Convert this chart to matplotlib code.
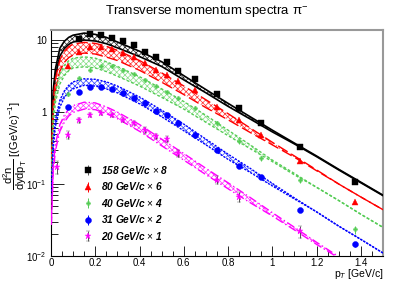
import numpy as np
import matplotlib
matplotlib.use("Agg")
import matplotlib.pyplot as plt

plt.rcParams['font.family'] = ['Liberation Sans', 'DejaVu Sans']
plt.rcParams['mathtext.fontset'] = 'custom'
plt.rcParams['mathtext.rm'] = 'Liberation Sans'
plt.rcParams['mathtext.it'] = 'Liberation Sans:italic'
plt.rcParams['mathtext.bf'] = 'Liberation Sans:bold'
plt.rcParams['hatch.linewidth'] = 0.5

# ---------------- data points ----------------
labels = ["158 GeV/c $\\times$ 8", "80 GeV/c $\\times$ 6", "40 GeV/c $\\times$ 4",
          "31 GeV/c $\\times$ 2", "20 GeV/c $\\times$ 1"]

x_158 = [0.125, 0.175, 0.225, 0.275, 0.325, 0.375, 0.425, 0.475, 0.525, 0.575, 0.65, 0.75, 0.85, 0.95, 1.125, 1.375]
y_158 = [10.2, 12.1, 11.7, 10.8, 9.8, 8.5, 6.9, 5.9, 4.95, 3.75, 2.87, 1.78, 1.14, 0.70, 0.33, 0.108]
e_158 = [0.2, 0.2, 0.2, 0.2, 0.2, 0.15, 0.12, 0.1, 0.08, 0.06, 0.05, 0.03, 0.02, 0.015, 0.008, 0.006]

x_80 = [0.075, 0.125, 0.175, 0.225, 0.275, 0.325, 0.375, 0.425, 0.475, 0.525, 0.575, 0.65, 0.75, 0.85, 0.95, 1.125, 1.375]
y_80 = [4.3, 6.8, 8.0, 7.9, 7.4, 6.7, 5.8, 4.8, 3.9, 3.3, 2.67, 2.0, 1.19, 0.77, 0.48, 0.207, 0.057]
e_80 = [0.15, 0.15, 0.15, 0.15, 0.15, 0.12, 0.1, 0.1, 0.08, 0.06, 0.05, 0.04, 0.03, 0.02, 0.012, 0.006, 0.003]

x_40 = [0.075, 0.125, 0.175, 0.225, 0.275, 0.325, 0.375, 0.425, 0.475, 0.525, 0.575, 0.65, 0.75, 0.85, 0.95, 1.125, 1.375]
y_40 = [1.8, 2.94, 3.9, 4.4, 4.3, 3.9, 3.4, 2.8, 2.3, 1.9, 1.55, 1.15, 0.70, 0.39, 0.227, 0.114, 0.0235]
e_40 = [0.12, 0.15, 0.15, 0.15, 0.15, 0.15, 0.12, 0.1, 0.08, 0.07, 0.06, 0.05, 0.04, 0.025, 0.015, 0.01, 0.003]

x_31 = [0.075, 0.125, 0.175, 0.225, 0.275, 0.325, 0.375, 0.425, 0.475, 0.525, 0.575, 0.65, 0.75, 0.85, 0.95, 1.125, 1.375]
y_31 = [1.16, 1.9, 2.2, 2.2, 2.09, 1.82, 1.56, 1.33, 1.04, 0.90, 0.70, 0.48, 0.30, 0.178, 0.126, 0.0435, 0.0145]
e_31 = [0.04, 0.05, 0.05, 0.05, 0.05, 0.04, 0.04, 0.03, 0.02, 0.02, 0.015, 0.01, 0.008, 0.005, 0.004, 0.002, 0.001]

x_20 = [0.025, 0.075, 0.125, 0.175, 0.225, 0.275, 0.325, 0.375, 0.425, 0.475, 0.525, 0.575, 0.75, 0.85, 1.125]
y_20 = [0.174, 0.48, 0.77, 0.91, 0.96, 0.91, 0.77, 0.71, 0.56, 0.46, 0.42, 0.27, 0.114, 0.067, 0.022]
e_20 = [0.035, 0.06, 0.06, 0.06, 0.06, 0.06, 0.05, 0.05, 0.05, 0.04, 0.04, 0.03, 0.015, 0.01, 0.004]

# ---------------- model curves ----------------
xc = [0.002, 0.01, 0.02, 0.04, 0.06, 0.08, 0.1, 0.15, 0.2, 0.25, 0.3, 0.4, 0.5, 0.6, 0.7, 0.8, 0.9, 1.0, 1.1, 1.2, 1.3, 1.4, 1.5]

hi_158 = [0.35, 2.0, 4.0, 7.7, 9.6, 10.9, 11.7, 12.5, 12.0, 10.9, 9.4, 7.0, 5.0, 3.2, 2.05, 1.32, 0.86, 0.56, 0.37, 0.245, 0.16, 0.106, 0.070]
lo_158 = [0.28, 1.6, 3.2, 6.0, 7.6, 8.7, 9.4, 10.0, 9.7, 8.9, 7.8, 5.9, 4.3, 2.8, 1.85, 1.2, 0.8, 0.53, 0.36, 0.24, 0.157, 0.104, 0.069]

hi_80 = [0.24, 1.45, 2.9, 5.3, 7.0, 8.1, 8.8, 9.3, 9.0, 8.2, 7.2, 5.2, 3.5, 2.3, 1.48, 0.95, 0.6, 0.38, 0.245, 0.157, 0.1, 0.066, 0.044]
lo_80 = [0.17, 1.0, 2.0, 3.7, 4.9, 5.7, 6.2, 6.6, 6.4, 5.8, 5.2, 3.8, 2.6, 1.75, 1.15, 0.78, 0.52, 0.35, 0.235, 0.153, 0.1, 0.066, 0.044]

hi_40 = [0.15, 0.94, 1.87, 3.4, 4.45, 5.15, 5.6, 5.85, 5.6, 5.0, 4.3, 3.1, 2.1, 1.4, 0.9, 0.56, 0.35, 0.215, 0.14, 0.09, 0.059, 0.038, 0.025]
lo_40 = [0.11, 0.68, 1.36, 2.45, 3.2, 3.75, 4.1, 4.25, 4.1, 3.65, 3.15, 2.3, 1.6, 1.1, 0.72, 0.47, 0.31, 0.205, 0.134, 0.09, 0.059, 0.038, 0.025]

hi_31 = [0.08, 0.39, 0.78, 1.46, 1.96, 2.35, 2.63, 2.9, 2.85, 2.63, 2.3, 1.62, 1.06, 0.68, 0.42, 0.26, 0.165, 0.102, 0.064, 0.041, 0.026, 0.017, 0.011]
lo_31 = [0.063, 0.315, 0.63, 1.17, 1.58, 1.9, 2.1, 2.35, 2.3, 2.1, 1.85, 1.3, 0.86, 0.55, 0.35, 0.22, 0.145, 0.094, 0.062, 0.041, 0.026, 0.017, 0.011]

hi_20 = [0.034, 0.18, 0.36, 0.67, 0.9, 1.1, 1.23, 1.37, 1.34, 1.18, 1.0, 0.67, 0.42, 0.265, 0.165, 0.104, 0.065, 0.04, 0.025, 0.0155, 0.0098, 0.006, 0.004]
lo_20 = [0.027, 0.145, 0.29, 0.54, 0.72, 0.88, 0.99, 1.1, 1.08, 0.95, 0.81, 0.54, 0.34, 0.215, 0.135, 0.086, 0.055, 0.036, 0.023, 0.0145, 0.0094, 0.006, 0.004]

colors = ['black', '#ff0000', '#55cc55', '#0000ff', '#ff00ff']
hatchc = ['#222222', '#ff3030', '#88dd88', '#3344ff', '#ff33ff']
lstyles = ['-', (0, (8, 3)), (0, (2, 1.5)), (0, (1.5, 1)), (0, (6, 2, 1, 2))]
markers = ['s', '^', 'P', 'o', '*']
msizes = [4.0, 4.3, 3.0, 4.3, 4.6]

data = [(x_158, y_158, e_158), (x_80, y_80, e_80), (x_40, y_40, e_40),
        (x_31, y_31, e_31), (x_20, y_20, e_20)]
bands = [(hi_158, lo_158), (hi_80, lo_80), (hi_40, lo_40), (hi_31, lo_31), (hi_20, lo_20)]

fig = plt.figure(figsize=(4.15, 2.82), dpi=100)
ax = fig.add_axes([51/415, 1-256/282, 332/415, 226/282])

for i in range(5):
    hi, lo = bands[i]
    ax.fill_between(xc, lo, hi, facecolor='none', edgecolor=hatchc[i],
                    hatch='xxxxxx', linewidth=0, zorder=2)
    lw = 1.2 if i == 0 else 1.0
    ax.plot(xc, hi, color=colors[i], linestyle=lstyles[i], lw=lw, zorder=3)
    ax.plot(xc, lo, color=colors[i], linestyle=lstyles[i], lw=lw, zorder=3)

handles = []
for i in range(5):
    x, y, e = data[i]
    ecol = '#555555' if i in (0, 4) else colors[i]
    cap = 1.5 if i == 4 else 0
    h = ax.errorbar(x, y, yerr=e, fmt=markers[i], color=colors[i], ms=msizes[i],
                    mec=colors[i], mew=0.3, ecolor=ecol, elinewidth=0.7, capsize=cap,
                    capthick=0.7, zorder=5)
    handles.append(h)

ax.set_yscale('log')
ax.set_xlim(0, 1.5)
ax.set_ylim(0.01, 13.8)

ax.set_xticks([0, 0.2, 0.4, 0.6, 0.8, 1.0, 1.2, 1.4])
ax.set_xticklabels(['0', '0.2', '0.4', '0.6', '0.8', '1', '1.2', '1.4'])
ax.set_xticks(np.arange(0, 1.5001, 0.05), minor=True)
ax.set_yticks([0.01, 0.1, 1, 10])
ax.set_yticklabels(['10$^{-2}$', '10$^{-1}$', '1', '10'])
ax.tick_params(which='both', direction='in', top=False, right=False, labelsize=7,
               colors='black', width=0.6)
ax.tick_params(axis='y', which='major', length=9, pad=3)
ax.tick_params(axis='y', which='minor', length=5)
ax.tick_params(axis='x', which='major', length=7, pad=1.5)
ax.tick_params(axis='x', which='minor', length=3.5)
for s in ['top', 'right']:
    ax.spines[s].set_color('#999999')
    ax.spines[s].set_linewidth(1.5)
for s in ['left', 'bottom']:
    ax.spines[s].set_linewidth(0.8)

leg = ax.legend(handles, labels, loc='lower left', bbox_to_anchor=(0.072, 0.022),
                frameon=False, handlelength=0.8, handletextpad=0.9, labelspacing=0.45,
                prop={'family': 'Liberation Sans', 'weight': 'bold', 'style': 'italic', 'size': 7.3})

fig.text(207/415, 1-11/282, 'Transverse momentum spectra π$^{-}$', ha='center', va='center', fontsize=9.5)
fig.text(383/415, 1-274/282, 'p$_{T}$ [GeV/c]', ha='right', va='center', fontsize=7.5)
fig.text(15/415, 1-146/282,
         r'$\dfrac{\mathrm{d^{2}n}}{\mathrm{dydp_{T}}}$ [(GeV/c)$^{-1}$]',
         ha='center', va='center', rotation=90, fontsize=8)

fig.savefig('out.png', dpi=100)
